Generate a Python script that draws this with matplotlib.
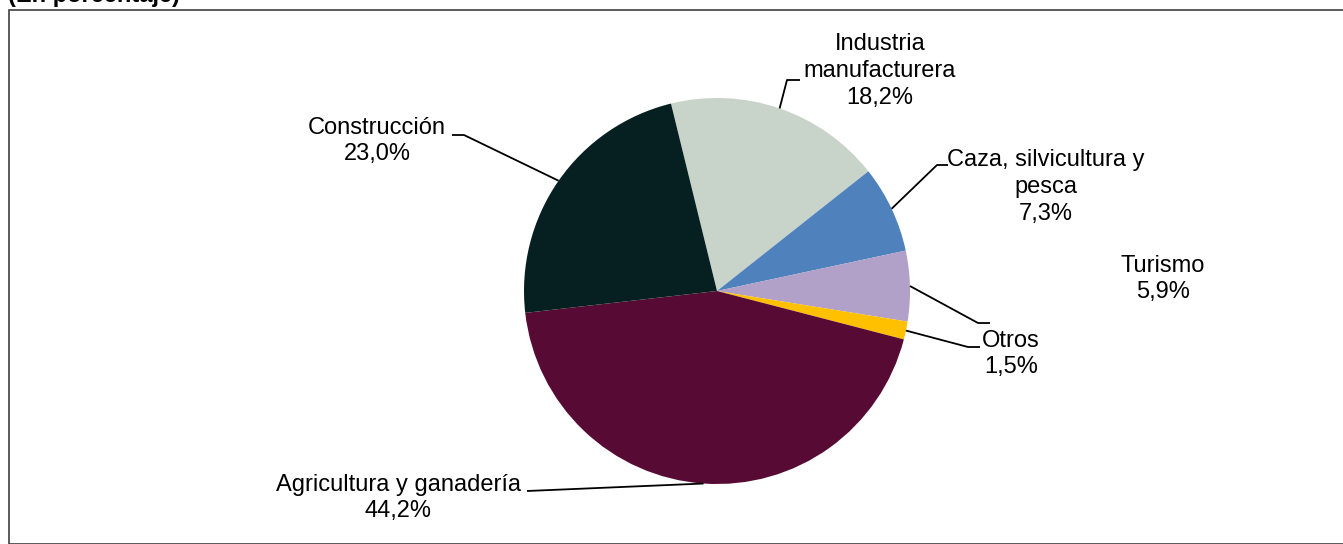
import numpy as np
import matplotlib.pyplot as plt
from matplotlib.patches import Rectangle

plt.rcParams['font.family'] = ['Liberation Sans', 'DejaVu Sans']

# datos (en porcentaje), en el orden del gráfico (sentido horario desde arriba)
sectores = ["Industria\nmanufacturera", "Caza, silvicultura y\npesca", "Turismo",
            "Otros", "Agricultura y ganadería", "Construcción"]
valores = [18.2, 7.3, 5.9, 1.5, 44.2, 23.0]
colores = ["#C8D3CA", "#4F81BD", "#B1A0C7", "#FFC000", "#570A33", "#061F20"]

W, H = 1343, 544
fig = plt.figure(figsize=(W / 100, H / 100), dpi=100)
ax = fig.add_axes([0, 0, 1, 1])

cx, cy, r = 717, H - 291, 193
wedges, _ = ax.pie(valores, colors=colores, startangle=103.8, counterclock=False,
                   center=(cx, cy), radius=r, frame=True,
                   wedgeprops=dict(linewidth=0))
ax.set_xlim(0, W)
ax.set_ylim(0, H)
ax.set_aspect('equal')
ax.axis('off')

# posición de etiquetas (centro del texto) y codo de la línea guía, en píxeles
pos_etiq = [(880, 71), (1046, 187), (1163, 279), (1011, 354), (398, 498), (377, 141)]
codos = [((787, 80), (800, 80)), ((937, 165), (948, 165)), ((978, 323), (990, 323)),
         ((968, 347), (980, 347)), ((527, 491), (527, 491)), ((464, 135), (452, 135))]

for w, nombre, v, (lx, ly), (c1, c2) in zip(wedges, sectores, valores, pos_etiq, codos):
    ang = np.deg2rad((w.theta1 + w.theta2) / 2)
    x0, y0 = cx + r * np.cos(ang), cy + r * np.sin(ang)
    ax.plot([x0, c1[0], c2[0]], [y0, H - c1[1], H - c2[1]], color='black', lw=1.3,
            solid_capstyle='butt')
    txt = nombre + "\n" + f"{v:.1f}".replace('.', ',') + "%"
    ax.text(lx, H - ly, txt, ha='center', va='center', fontsize=17,
            linespacing=1.27, color='black')

# marco del gráfico
fig.patches.append(Rectangle((9 / W, 0), 1.0, 1 - 10 / H, transform=fig.transFigure,
                             fill=False, edgecolor='#404040', lw=1.2))
fig.text(8 / W, 1 - 7 / H, "(En porcentaje)", fontsize=17, fontweight='bold',
         ha='left', va='bottom')

fig.savefig("out.png", dpi=100)
